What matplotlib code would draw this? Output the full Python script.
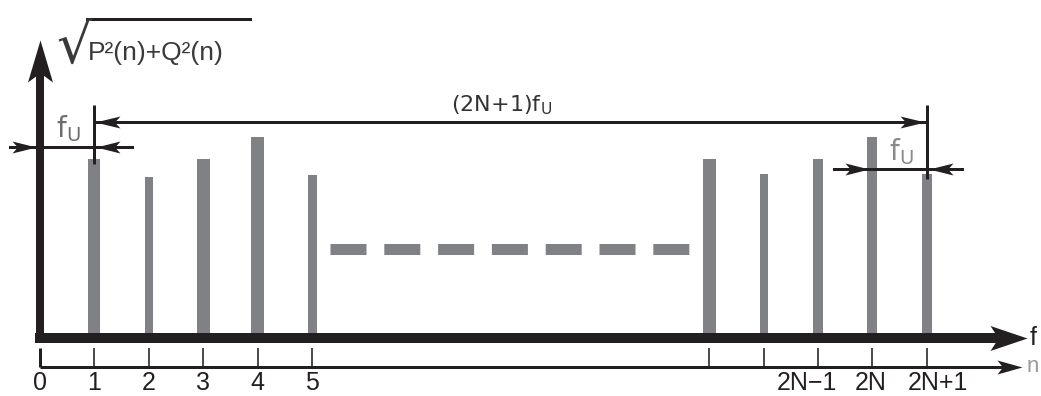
import matplotlib
matplotlib.use('Agg')
import matplotlib.pyplot as plt
from matplotlib.path import Path
from matplotlib.markers import MarkerStyle
from matplotlib.textpath import TextPath
from matplotlib import transforms as mtransforms, font_manager

plt.rcParams['lines.scale_dashes'] = False

# canvas / layout (pixels)
W, H, DPI = 1041, 396, 100
SLOT = 54.4      # pixels per step of n
X0 = 40          # pixel column of n = 0
BASE = 338       # pixel row of the f axis
PT = 72 / DPI    # points per pixel

# data: spectral line amplitudes
left_n = [1, 2, 3, 4, 5]
left_amp = [179, 161, 179, 201, 163]
right_slot = [12.3, 13.3, 14.3, 15.3, 16.3]     # ..., 2N-1, 2N, 2N+1
right_amp = [179, 164, 179, 201, 164]
tick_slot = [0] + left_n + right_slot
tick_text = ['0', '1', '2', '3', '4', '5', '', '', '2N\u22121', '2N', '2N+1']
gap_level = 89

# styles
bar_px = [12, 8, 13, 13, 9, 13, 8, 10, 10, 10]
label_shift_px = [0, 0, 0, 0, 0, 0, 0, 0, -11, -2, 11]
INK = '#231f20'
GRAY = '#808184'

names = {f.name for f in font_manager.fontManager.ttflist}
NARROW = 'Liberation Sans Narrow' if 'Liberation Sans Narrow' in names else 'Liberation Sans'

fig = plt.figure(figsize=(W / DPI, H / DPI), dpi=DPI)
ax = fig.add_axes([0, 0, 1, 1])
ax.set_xlim(-X0 / SLOT, (W - X0) / SLOT)
ax.set_ylim(BASE - H, BASE)
ax.axis('off')
# pixel transform (x from left, y from top) for labels
pix = mtransforms.Affine2D().scale(1 / W, -1 / H).translate(0, 1) + fig.transFigure


def dx(p):
    return p / SLOT


def head(x, y, angle, length, width, color=INK, notch=0.22):
    r = width / length
    verts = [(0, 0), (-1, r / 2), (-1 + notch, 0), (-1, -r / 2), (0, 0)]
    codes = [Path.MOVETO, Path.LINETO, Path.LINETO, Path.LINETO, Path.CLOSEPOLY]
    m = MarkerStyle(Path(verts, codes), transform=mtransforms.Affine2D().rotate_deg(angle))
    ax.plot([x], [y], marker=m, ms=2 * length * PT, color=color, mew=0, ls='none', zorder=6)


# bars
slots = left_n + right_slot
amps = left_amp + right_amp
ax.bar(slots, amps, width=[dx(b) for b in bar_px], color=GRAY, zorder=2)

# dashed "..." between the groups
ax.plot([left_n[-1] + dx(18), right_slot[0] - dx(18)], [gap_level] * 2,
        lw=11 * PT, dashes=(36 * PT, 17.8 * PT), color=GRAY, zorder=2)

# vertical axis
y_tip = BASE - 40
ax.plot([0, 0], [-5, y_tip - 30], lw=8 * PT, color=INK, solid_capstyle='butt', zorder=4)
head(0, y_tip, 90, 42, 25)

# f axis
xr = (W - X0) / SLOT
f_tip = xr - dx(14)
ax.plot([-dx(5), f_tip - dx(28)], [0, 0], lw=10 * PT, color=INK, solid_capstyle='butt', zorder=4)
head(f_tip, 0, 0, 37, 25)

# n axis
n_level = -29
n_tip = xr - dx(19)
ax.plot([0, n_tip - dx(16)], [n_level] * 2, lw=3 * PT, color=INK, solid_capstyle='butt', zorder=4)
head(n_tip, n_level, 0, 25, 14)
ax.vlines(tick_slot[1:], n_level, -10, lw=2 * PT, color='#4d4d4f', zorder=3)
ax.vlines([0], n_level, -10, lw=3 * PT, color=INK, zorder=3)
for s, t, o in zip(tick_slot, tick_text, label_shift_px):
    ax.text(s + dx(o), -52, t, ha='center', va='baseline', fontsize=18,
            family=NARROW, color=INK)

# dimension: (2N+1) fU
LWD = 3 * PT
top_y = 216
ax.plot([1, right_slot[-1]], [top_y] * 2, lw=LWD, color=INK, zorder=5)
head(1 + dx(1), top_y, 180, 25, 12)
head(right_slot[-1] - dx(2), top_y, 0, 25, 12)
ax.vlines([1], 174, 233, lw=LWD, color=INK, zorder=5)
ax.vlines([right_slot[-1]], 159, 233, lw=LWD, color=INK, zorder=5)
ax.text((1 + right_slot[-1]) / 2 - dx(9), 227, r'(2N+1)f$_\mathregular{U}$',
        ha='center', va='baseline', fontsize=16, color='#333333')

# dimension: fU between 0 and 1
lf_y = 191
ax.plot([-dx(30), 1 + dx(38)], [lf_y] * 2, lw=LWD, color=INK, zorder=5)
head(-dx(4), lf_y, 0, 24, 12)
head(1 + dx(2), lf_y, 180, 24, 12)
ax.text(0.53, 201, r'f$_\mathregular{U}$', ha='center', va='baseline',
        fontsize=20, color='#6d6e71')

# dimension: fU between 2N and 2N+1
rf_y = 169
ax.plot([right_slot[3] - dx(38), right_slot[4] + dx(35)], [rf_y] * 2, lw=LWD, color=INK, zorder=5)
head(right_slot[3] - dx(3), rf_y, 0, 24, 12)
head(right_slot[4] + dx(2), rf_y, 180, 24, 12)
ax.text((right_slot[3] + right_slot[4]) / 2 + 0.03, 178, r'f$_\mathregular{U}$',
        ha='center', va='baseline', fontsize=20, color='#8a8a8d')

# y label: sqrt(P^2(n)+Q^2(n)) -- radical glyph sized so it meets the overline
rad_fp = font_manager.FontProperties(family='DejaVu Sans')
probe = TextPath((0, 0), '\u221a', size=100, prop=rad_fp)
ex = probe.get_extents()
rad_top, rad_bottom, rad_left = 18, 64, 58          # pixels
k = (rad_bottom - rad_top) / ex.height
v = probe.vertices
top_x = v[v[:, 1].argmax(), 0]
rad_size_px = 100 * k
ax.text(rad_left - ex.x0 * k, rad_top + ex.y1 * k, '\u221a', transform=pix,
        fontsize=rad_size_px * PT, family='DejaVu Sans', ha='left', va='baseline',
        color='#3a3a3a')
bar_start = rad_left + (top_x - ex.x0) * k
ax.plot([bar_start, 250], [rad_top + 1, rad_top + 1], transform=pix, lw=3 * PT, color=INK)
ax.text(88, 60, 'P\u00b2(n)+Q\u00b2(n)', transform=pix, fontsize=19, family=NARROW,
        ha='left', va='baseline', color='#3a3a3a')

# axis names at the right edge
ax.text(1030, 338, 'f', transform=pix, fontsize=18, family=NARROW,
        ha='left', va='center', color=INK)
ax.text(1027, 366, 'n', transform=pix, fontsize=16, family=NARROW,
        ha='left', va='center', color='#9a9a9a')

fig.savefig('out.png', dpi=DPI)
